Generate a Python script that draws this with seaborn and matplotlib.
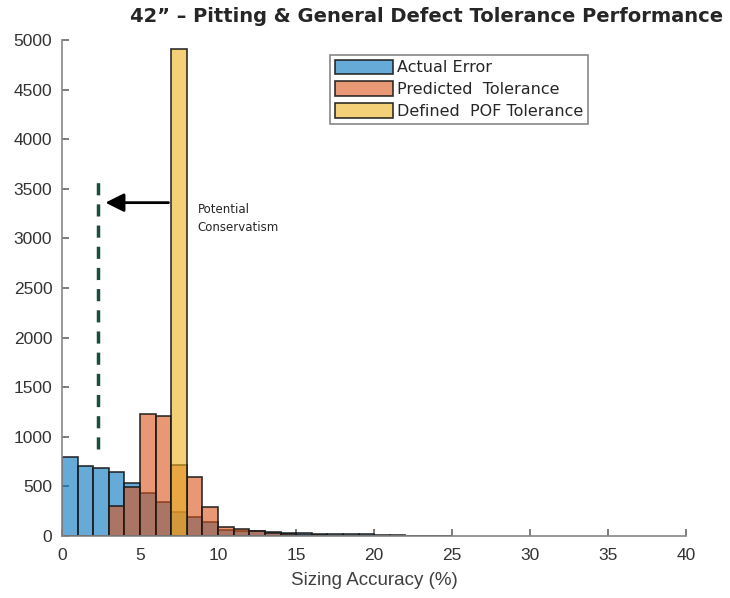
import numpy as np
import pandas as pd
import matplotlib
matplotlib.use("Agg")
import matplotlib.pyplot as plt
import seaborn as sns

# ---- data (bin counts, 1 % wide bins starting at 0) ----
bin_edges = list(range(0, 26))
actual_error = [800, 710, 690, 640, 530, 430, 340, 245, 195, 145,
                65, 55, 50, 45, 35, 30, 20, 18, 18, 15, 10, 5, 3, 2, 1]
predicted_tol = [0, 0, 0, 300, 497, 1225, 1210, 720, 595, 295,
                 90, 70, 55, 30, 15, 10, 5, 0, 0, 0, 0, 0, 0, 0, 0]
defined_pof = [0, 0, 0, 0, 0, 0, 0, 4910, 0, 0,
               0, 0, 0, 0, 0, 0, 0, 0, 0, 0, 0, 0, 0, 0, 0]
series_names = ["Actual Error", "Predicted  Tolerance", "Defined  POF Tolerance"]
series_colors = ["#0072BD", "#D95319", "#EDB120"]
x_ticks = [0, 5, 10, 15, 20, 25, 30, 35, 40]
y_ticks = [0, 500, 1000, 1500, 2000, 2500, 3000, 3500, 4000, 4500, 5000]

sns.set_style("white")
plt.rcParams['font.family'] = ['Liberation Sans', 'DejaVu Sans']

fig = plt.figure(figsize=(7.3, 5.98), dpi=100)
ax = fig.add_axes([0.085, 0.1037, 0.855, 0.8295])

centers = [e + 0.5 for e in bin_edges[:-1]]
for name, counts, col in zip(series_names, [actual_error, predicted_tol, defined_pof], series_colors):
    df = pd.DataFrame({"x": centers, "w": counts})
    n_before = len(ax.patches)
    sns.histplot(data=df, x="x", weights="w", bins=bin_edges, ax=ax,
                 color=col, label=name, edgecolor="black", linewidth=1.2)
    for p in ax.patches[n_before:]:
        p.set_facecolor(matplotlib.colors.to_rgba(col, 0.6))
        p.set_edgecolor((0.1, 0.1, 0.1, 0.9))

ax.set_xlim(0, 40)
ax.set_ylim(0, 5000)
ax.set_xticks(x_ticks)
ax.set_yticks(y_ticks)
ax.set_xlabel("Sizing Accuracy (%)", fontsize=13.5, color="#404040", labelpad=6)
ax.set_ylabel("")
ax.tick_params(axis="both", which="major", bottom=True, left=True, direction="in",
               length=5, width=1.2, color="#666666",
               labelsize=12.5, labelcolor="#333333")
ax.tick_params(axis="y", pad=7)
ax.tick_params(axis="x", pad=9)
for s in ["top", "right"]:
    ax.spines[s].set_visible(False)
for s in ["left", "bottom"]:
    ax.spines[s].set_color("#888888")
    ax.spines[s].set_linewidth(1.2)

# dashed threshold line and arrow
ax.plot([2.3, 2.3], [880, 3580], color="#1B4D3E", lw=2.5, linestyle=(0, (3.5, 2.6)))
ax.annotate("", xy=(2.6, 3360), xytext=(7.0, 3360),
            arrowprops=dict(arrowstyle="-|>", color="black", lw=2, mutation_scale=28))
ax.text(8.7, 3200, "Potential\nConservatism", fontsize=8.5, ha="left", va="center",
        linespacing=1.5, family=["DejaVu Sans"])

leg = ax.legend(loc="upper left", bbox_to_anchor=(0.43, 0.97), fontsize=11.5,
                frameon=True, fancybox=False, framealpha=1, edgecolor="#888888",
                handlelength=3.6, handleheight=1.05, labelspacing=0.37,
                handletextpad=0.25, borderpad=0.3, borderaxespad=0)
leg.get_frame().set_linewidth(1.2)
for t in leg.get_texts():
    t.set_family(["DejaVu Sans"])

fig.text(0.99, 0.972, "42\u201d \u2013 Pitting & General Defect Tolerance Performance",
         ha="right", va="center", fontsize=14, fontweight="bold", family=["DejaVu Sans"])

fig.savefig("out.png", dpi=100)
